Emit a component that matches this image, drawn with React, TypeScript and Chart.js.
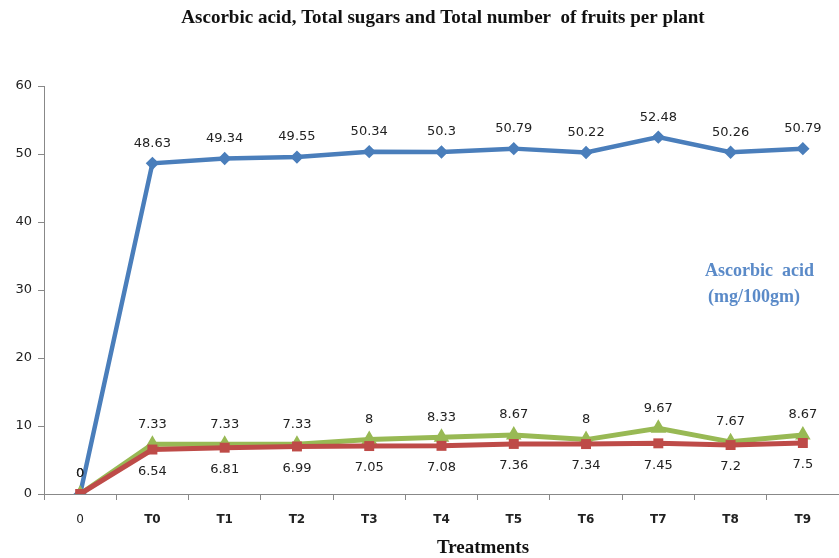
import React, { useEffect, useRef } from "react";
import { Chart, registerables } from "chart.js";

Chart.register(...registerables);

const categories = ["0", "T0", "T1", "T2", "T3", "T4", "T5", "T6", "T7", "T8", "T9"];
const ascorbicAcid = [0, 48.63, 49.34, 49.55, 50.34, 50.3, 50.79, 50.22, 52.48, 50.26, 50.79];
const totalSugars = [0, 6.54, 6.81, 6.99, 7.05, 7.08, 7.36, 7.34, 7.45, 7.2, 7.5];
const fruitsPerPlant = [0, 7.33, 7.33, 7.33, 8, 8.33, 8.67, 8, 9.67, 7.67, 8.67];
const yTicks = [0, 10, 20, 30, 40, 50, 60];

const chartTitle = "Ascorbic acid, Total sugars and Total number  of fruits per plant";
const xTitle = "Treatments";
const noteLines = ["Ascorbic  acid", "(mg/100gm)"];

const BLUE = "#4A7EBB";
const RED = "#BE4B48";
const GREEN = "#98B954";

// Value labels above / below each point, plus the title texts.
const textPlugin = {
  id: "texts",
  afterDatasetsDraw(chart: any) {
    const ctx = chart.ctx;
    ctx.save();
    ctx.font = "13px 'DejaVu Sans'";
    ctx.fillStyle = "#222";
    ctx.textAlign = "center";
    ctx.textBaseline = "middle";
    chart.data.datasets.forEach((ds: any, i: number) => {
      const meta = chart.getDatasetMeta(i);
      const pos = ds.labelPos as string;
      meta.data.forEach((pt: any, j: number) => {
        if (pos === "below" && j === 0) return;
        const v = ds.data[j];
        const y = pos === "below" ? pt.y + 22 : pt.y - 20;
        ctx.fillText(String(v), pt.x, y);
      });
    });

    ctx.fillStyle = "#111";
    ctx.font = "bold 19px 'Liberation Serif'";
    ctx.fillText(chartTitle, 443, 18);
    ctx.font = "bold 19px 'Liberation Serif'";
    ctx.fillText(xTitle, 483, 548);

    ctx.fillStyle = "#5A8AC8";
    ctx.font = "bold 18px 'Liberation Serif'";
    ctx.textAlign = "left";
    ctx.fillText(noteLines[0], 705, 271);
    ctx.fillText(noteLines[1], 708, 297);
    ctx.restore();
  },
};

export default function App() {
  const ref = useRef<HTMLCanvasElement>(null);

  useEffect(() => {
    const canvas = ref.current!;
    const chart = new Chart(canvas, {
      type: "line",
      data: {
        labels: categories,
        datasets: [
          {
            label: "Total sugars",
            data: totalSugars,
            borderColor: RED,
            backgroundColor: RED,
            borderWidth: 5,
            pointStyle: "rect",
            pointRadius: 3.5,
            tension: 0,
            labelPos: "below",
          } as any,
          {
            label: "Total number of fruits per plant",
            data: fruitsPerPlant,
            borderColor: GREEN,
            backgroundColor: GREEN,
            borderWidth: 5,
            pointStyle: "triangle",
            pointRadius: 4,
            tension: 0,
            labelPos: "above",
          } as any,
          {
            label: "Ascorbic acid",
            data: ascorbicAcid,
            borderColor: BLUE,
            backgroundColor: BLUE,
            borderWidth: 4.5,
            pointStyle: "rectRot",
            pointRadius: 3.5,
            tension: 0,
            labelPos: "above",
          } as any,
        ],
      },
      options: {
        animation: false,
        responsive: false,
        layout: { padding: { top: 86, right: 0, left: 0, bottom: 0 } },
        plugins: {
          legend: { display: false },
          title: { display: false },
          tooltip: { enabled: false },
        },
        scales: {
          x: {
            offset: true,
            grid: {
              offset: true,
              drawOnChartArea: false,
              drawTicks: true,
              tickLength: 6,
              color: "#888",
            },
            border: { color: "#888", width: 1 },
            ticks: {
              color: "#222",
              padding: 13,
              font: (c: any) => ({
                family: "'DejaVu Sans'",
                size: 12,
                weight: c.index === 0 ? "normal" : "bold",
              }),
            },
            afterFit: (s: any) => {
              s.height = 64;
            },
          },
          y: {
            min: 0,
            max: 60,
            afterBuildTicks: (s: any) => {
              s.ticks = yTicks.map((v) => ({ value: v }));
            },
            grid: {
              drawOnChartArea: false,
              drawTicks: true,
              tickLength: 6,
              color: "#888",
            },
            border: { color: "#888", width: 1 },
            ticks: {
              color: "#222",
              padding: 6,
              font: { family: "'DejaVu Sans'", size: 13 },
            },
            afterFit: (s: any) => {
              s.width = 44;
            },
          },
        },
      },
      plugins: [textPlugin],
    });
    return () => chart.destroy();
  }, []);

  // The canvas runs a little past the right edge so the last category
  // sits close to the border, as in the printed figure.
  return (
    <div
      style={{
        position: "absolute",
        left: 0,
        top: 0,
        width: 839,
        height: 558,
        overflow: "hidden",
        background: "#fff",
      }}
    >
      <canvas ref={ref} width={848} height={558} style={{ display: "block" }} />
    </div>
  );
}
